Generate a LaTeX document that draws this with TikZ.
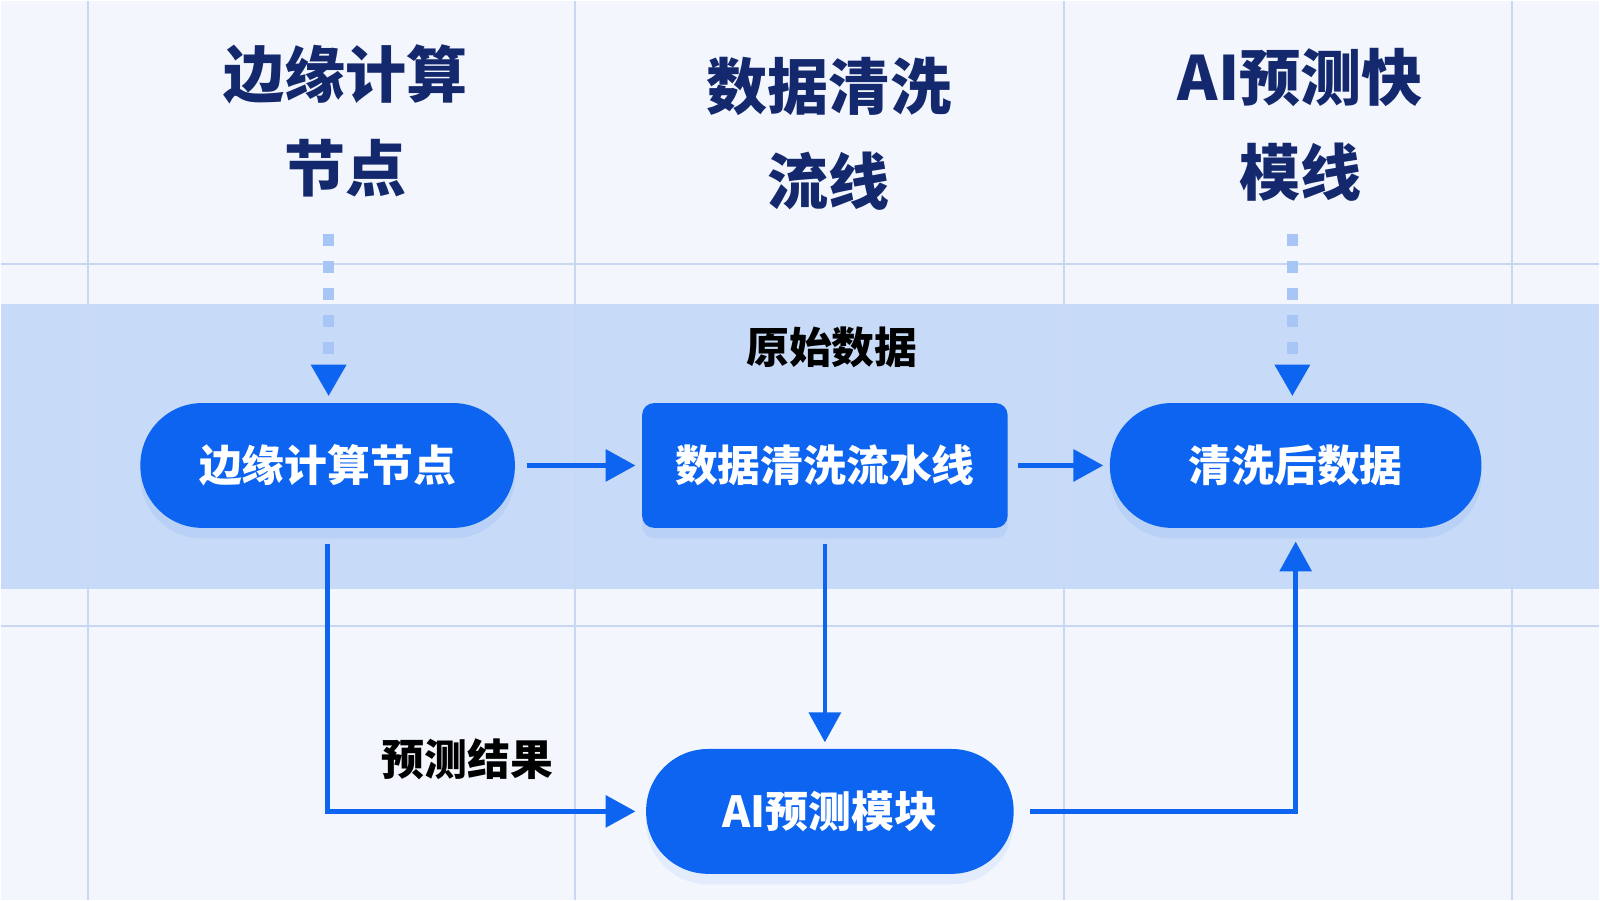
\documentclass[tikz,border=0pt]{standalone}
\usepackage{fontspec}
\setmainfont{Noto Sans CJK SC}
\usepackage{tikz}
\usetikzlibrary{positioning, arrows.meta, shadows}
\definecolor{flowblue}{RGB}{12,100,240}
\definecolor{headnavy}{RGB}{20,40,110}
\definecolor{bandblue}{RGB}{199,218,247}
\definecolor{paper}{RGB}{243,247,253}
\definecolor{gridline}{RGB}{200,216,243}
\definecolor{dotblue}{RGB}{168,198,245}

\begin{document}
\begin{tikzpicture}[
  node distance=1.26cm and 1.26cm,
  heading/.style={font=\fontsize{17.4}{27}\selectfont\bfseries, text=headnavy, align=center},
  pill/.style={fill=flowblue, rounded corners=0.62cm,
               minimum width=3.72cm, minimum height=1.25cm,
               text=white, font=\fontsize{12.2}{14}\selectfont\bfseries,
               drop shadow={shadow xshift=0pt, shadow yshift=-3pt, opacity=0.07, fill=flowblue}},
  stagebox/.style={pill, rounded corners=0.12cm, minimum width=3.66cm},
  tag/.style={font=\fontsize{12.2}{14}\selectfont\bfseries, text=black},
  arr/.style={-{Triangle[length=8.5pt, width=9pt]}, line width=1.25pt, color=flowblue},
  hint/.style={-{Triangle[length=9pt, width=9.5pt, color=flowblue]}, line width=3pt,
               color=dotblue, dash pattern=on 3.4pt off 4.3pt},
]
  % canvas, band and grid
  \fill[paper] (0,0) rectangle (16,9);
  \fill[bandblue] (0,3.11) rectangle (16,5.97);
  \foreach \gx in {0.87, 5.75, 10.64, 15.13}
    \draw[gridline, line width=0.6pt] (\gx,0) -- (\gx,9);
  \foreach \gy in {2.74, 6.37}
    \draw[gridline, line width=0.6pt] (0,\gy) -- (16,\gy);

  % column headings
  \node[heading] (hdedge) at (3.45,7.8) {边缘计算\\节点};
  \node[heading] (hdclean) at (8.29,7.67) {数据清洗\\流线};
  \node[heading] (hdai) at (13.01,7.76) {AI预测快\\模线};

  % main row
  \node[pill, minimum width=3.75cm] (edge) at (3.27,4.35) {边缘计算节点};
  \node[stagebox, right=of edge] (clean) {数据清洗流水线};
  \node[pill, right=1.01cm of clean] (cleaned) {清洗后数据};
  \node[pill, minimum width=3.68cm, below=2.2cm of clean, xshift=0.05cm] (ai) {AI预测模块};

  \node[tag, above=0.22cm of clean, xshift=0.07cm] (raw) {原始数据};

  % hints from the headings
  \coordinate (edgetop) at (3.28,6.67);
  \coordinate (cleanedtop) at (12.93,6.67);
  \draw[hint, shorten >=0.06cm] (edgetop) -- (edgetop |- edge.north);
  \draw[hint, shorten >=0.06cm] (cleanedtop) -- (cleanedtop |- cleaned.north);

  % flow
  \draw[arr, shorten <=0.11cm, shorten >=0.06cm] (edge) -- (clean);
  \draw[arr, shorten <=0.1cm, shorten >=0.06cm] (clean) -- (cleaned);
  \draw[arr, shorten <=0.15cm, shorten >=0.06cm] (clean.south) -- (clean.south |- ai.north);
  \draw[arr, shorten <=0.15cm, shorten >=0.1cm] (edge.south) |- node[tag, pos=0.72, above=5pt] (result) {预测结果} (ai.west);
  \draw[arr, shorten <=0.16cm, shorten >=0.13cm] (ai.east) -| (cleaned.south);
\end{tikzpicture}
\end{document}
